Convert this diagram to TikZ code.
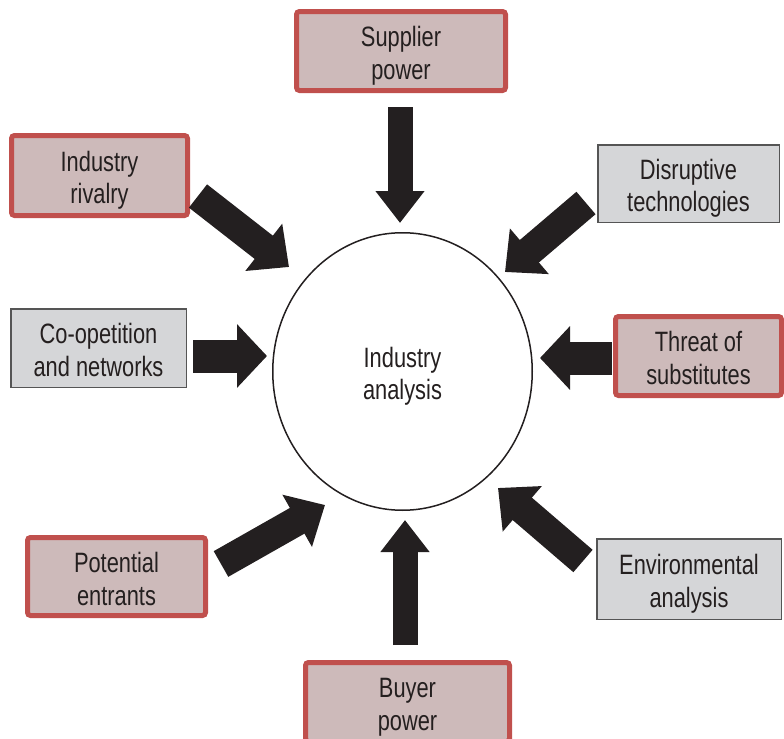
\documentclass[tikz,border=0pt]{standalone}
\usepackage{fontspec}
\setmainfont{Liberation Sans}[FakeStretch=0.78]
\usepackage{tikz}
\usetikzlibrary{arrows.meta,shapes.geometric}

\definecolor{redline}{HTML}{C0504D}
\definecolor{redfill}{HTML}{CDBABA}
\definecolor{greyfill}{HTML}{D5D6D8}
\definecolor{greyline}{HTML}{555555}
\definecolor{txt}{HTML}{241F1F}
\definecolor{ink}{HTML}{231F20}

\tikzset{
  boxtext/.style={align=center, inner sep=0pt, text=txt, font=\fontsize{14pt}{16.5pt}\selectfont,
    text height=28.5pt, text depth=0pt},
  redbox/.style={boxtext, draw=redline, line width=2.5pt, fill=redfill, rounded corners=1.5pt},
  greybox/.style={boxtext, draw=greyline, line width=0.75pt, fill=greyfill},
  bigarrow/.style={draw=ink, line cap=butt},
  vertarrow/.style={bigarrow, line width=12.5pt, -{Triangle[length=16pt 0 0, width=23.5pt 0 0]}},
  horzarrow/.style={bigarrow, line width=16.5pt, -{Triangle[length=15pt 0 0, width=31pt 0 0]}},
  diagarrow/.style={bigarrow, line width=14.75pt, -{Triangle[length=16pt 0 0, width=29pt 0 0]}}
}

\begin{document}
\begin{tikzpicture}[x=0.5pt, y=-0.5pt]
    \useasboundingbox (0,0) rectangle (784,739) ;
    \clip (0,0) rectangle (784,739) ;

    % centre
    \node[ellipse, draw=ink, line width=0.75pt, inner sep=0pt, minimum width=129.75pt, minimum height=138.75pt, boxtext] (circ) at (402.5,371.5) {Industry\\analysis} ;

    % forces
    \node[redbox, minimum width=104.5pt, minimum height=39.5pt] (sup) at (401,51) {Supplier\\power} ;
    \node[redbox, minimum width=88pt, minimum height=40pt] (riv) at (99.5,175.5) {Industry\\rivalry} ;
    \node[greybox, minimum width=90.75pt, minimum height=38.75pt] (dis) at (688.5,183.5) {Disruptive\\technologies} ;
    \node[greybox, minimum width=87.75pt, minimum height=39.25pt] (coop) at (98.5,348) {Co-opetition\\and networks} ;
    \node[redbox, minimum width=83pt, minimum height=39.5pt] (thr) at (698.5,356) {Threat of\\substitutes} ;
    \node[redbox, minimum width=89pt, minimum height=39pt] (pot) at (116.5,576.5) {Potential\\entrants} ;
    \node[greybox, minimum width=92.25pt, minimum height=40.25pt] (env) at (689,579) {Environmental\\analysis} ;
    \node[redbox, minimum width=102pt, minimum height=39.5pt] (buy) at (407.5,702) {Buyer\\power} ;

    % arrow ends
    \coordinate (sup-t) at (400,107) ;   \coordinate (sup-h) at (400,223) ;
    \coordinate (riv-t) at (198,196) ;   \coordinate (riv-h) at (289,267) ;
    \coordinate (dis-t) at (586,203) ;   \coordinate (dis-h) at (505,272) ;
    \coordinate (coop-t) at (193,356) ;  \coordinate (coop-h) at (267,356) ;
    \coordinate (thr-t) at (612,358) ;   \coordinate (thr-h) at (540,358) ;
    \coordinate (pot-t) at (221,564) ;   \coordinate (pot-h) at (325,505) ;
    \coordinate (env-t) at (583,561) ;   \coordinate (env-h) at (498,488) ;
    \coordinate (buy-t) at (405,645) ;   \coordinate (buy-h) at (405,520) ;

    \draw[vertarrow] (sup-t) -- (sup-h) ;
    \draw[vertarrow] (buy-t) -- (buy-h) ;
    \draw[horzarrow] (coop-t) -- (coop-h) ;
    \draw[horzarrow] (thr-t) -- (thr-h) ;
    \draw[diagarrow] (riv-t) -- (riv-h) ;
    \draw[diagarrow] (dis-t) -- (dis-h) ;
    \draw[diagarrow] (pot-t) -- (pot-h) ;
    \draw[diagarrow] (env-t) -- (env-h) ;
\end{tikzpicture}
\end{document}
